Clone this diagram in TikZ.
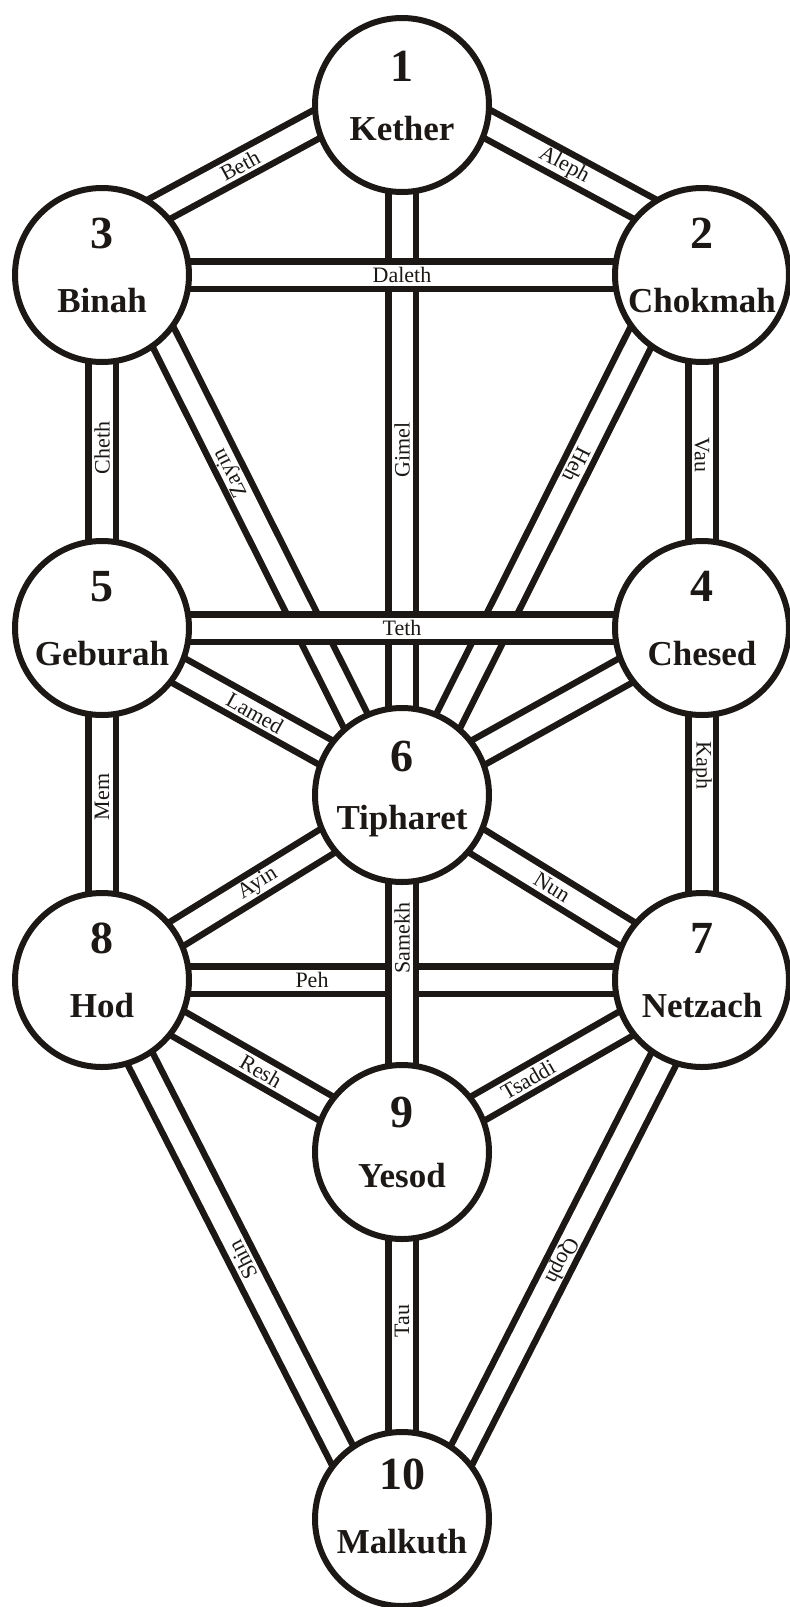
\documentclass[tikz,border=0pt]{standalone}
\usepackage{fontspec}
\setmainfont{Liberation Serif}
\usepackage{tikz}
\usetikzlibrary{backgrounds}
\definecolor{ink}{RGB}{28,24,22}

\begin{document}
\begin{tikzpicture}[x=1pt,y=-1pt,ink]
  \tikzstyle{sephira}=[circle,draw=ink,line width=6pt,fill=white,minimum size=174pt,inner sep=0pt]
  \tikzstyle{sephnum}=[font=\fontsize{46}{50}\selectfont\bfseries,text=ink,inner sep=0pt,anchor=base]
  \tikzstyle{sephname}=[font=\fontsize{35}{40}\selectfont\bfseries,text=ink,inner sep=0pt,anchor=base]
  \tikzstyle{band}=[draw=ink,line width=6.5pt,double=white,double distance=21pt]
  \tikzstyle{letter}=[font=\fontsize{22}{25}\selectfont,text=ink,inner sep=0pt]

  \useasboundingbox (0,0) rectangle (790,1607);

  \node[sephira] (kether)   at (402,105)  {};
  \node[sephira] (chokmah)  at (702,275)  {};
  \node[sephira] (binah)    at (102,275)  {};
  \node[sephira] (chesed)   at (702,628)  {};
  \node[sephira] (geburah)  at (102,628)  {};
  \node[sephira] (tipharet) at (402,795)  {};
  \node[sephira] (netzach)  at (702,980)  {};
  \node[sephira] (hod)      at (102,980)  {};
  \node[sephira] (yesod)    at (402,1152) {};
  \node[sephira] (malkuth)  at (402,1519) {};

  \node[sephnum]  (kether-num)    at ([yshift=24pt]kether.center)    {1};
  \node[sephname] (kether-name)   at ([yshift=-35pt]kether.center)   {Kether};
  \node[sephnum]  (chokmah-num)   at ([yshift=27pt]chokmah.center)   {2};
  \node[sephname] (chokmah-name)  at ([yshift=-37pt]chokmah.center)  {Chokmah};
  \node[sephnum]  (binah-num)     at ([yshift=27pt]binah.center)     {3};
  \node[sephname] (binah-name)    at ([yshift=-37pt]binah.center)    {Binah};
  \node[sephnum]  (chesed-num)    at ([yshift=27pt]chesed.center)    {4};
  \node[sephname] (chesed-name)   at ([yshift=-37pt]chesed.center)   {Chesed};
  \node[sephnum]  (geburah-num)   at ([yshift=27pt]geburah.center)   {5};
  \node[sephname] (geburah-name)  at ([yshift=-37pt]geburah.center)  {Geburah};
  \node[sephnum]  (tipharet-num)  at ([yshift=24pt]tipharet.center)  {6};
  \node[sephname] (tipharet-name) at ([yshift=-34pt]tipharet.center) {Tipharet};
  \node[sephnum]  (netzach-num)   at ([yshift=27pt]netzach.center)   {7};
  \node[sephname] (netzach-name)  at ([yshift=-37pt]netzach.center)  {Netzach};
  \node[sephnum]  (hod-num)       at ([yshift=27pt]hod.center)       {8};
  \node[sephname] (hod-name)      at ([yshift=-37pt]hod.center)      {Hod};
  \node[sephnum]  (yesod-num)     at ([yshift=25pt]yesod.center)     {9};
  \node[sephname] (yesod-name)    at ([yshift=-35pt]yesod.center)    {Yesod};
  \node[sephnum]  (malkuth-num)   at ([yshift=30pt]malkuth.center)   {10};
  \node[sephname] (malkuth-name)  at ([yshift=-34pt]malkuth.center)  {Malkuth};

  % the paths, under the circles
  \begin{pgfonlayer}{background}
  \path[band] ([yshift=35pt]binah.center) -- node[letter,pos=0.46,rotate=28.4] {Beth} ([yshift=27pt]kether.center);
  \path[band] ([yshift=27pt]kether.center) -- node[letter,pos=0.54,rotate=-28.4] {Aleph} ([yshift=35pt]chokmah.center);
  \path[band] (kether.center) -- node[letter,pos=0.5,rotate=90] {Gimel} (tipharet.center);
  \path[band] ([xshift=30pt]binah.center) -- node[letter,pos=0.38,rotate=116.7] {Zayin} ([xshift=-9pt]tipharet.center);
  \path[band] ([xshift=-30pt]chokmah.center) -- node[letter,pos=0.365,rotate=-116.7] {Heh} ([xshift=9pt]tipharet.center);
  \path[band] (binah.center) -- node[letter,pos=0.49,rotate=90] {Cheth} (geburah.center);
  \path[band] (chokmah.center) -- node[letter,pos=0.51,rotate=-90] {Vau} (chesed.center);
  \path[band] (geburah.center) -- node[letter,pos=0.51,rotate=-29.1] {Lamed} (tipharet.center);
  \path[band] (chesed.center) -- (tipharet.center);
  \path[band] (geburah.center) -- node[letter,pos=0.48,rotate=90] {Mem} (hod.center);
  \path[band] (chesed.center) -- node[letter,pos=0.39,rotate=-90] {Kaph} (netzach.center);
  \path[band] (hod.center) -- node[letter,pos=0.52,rotate=31.7] {Ayin} (tipharet.center);
  \path[band] (tipharet.center) -- node[letter,pos=0.5,rotate=-31.7] {Nun} (netzach.center);
  \path[band] (hod.center) -- node[letter,pos=0.53,rotate=-29.8] {Resh} (yesod.center);
  \path[band] (yesod.center) -- node[letter,pos=0.42,rotate=29.8] {Tsaddi} (netzach.center);
  \path[band] ([xshift=-2pt]hod.center) -- node[letter,pos=0.52,rotate=117] {Shin} ([xshift=-27pt]malkuth.center);
  \path[band] ([xshift=2pt]netzach.center) -- node[letter,pos=0.52,rotate=-117] {Qoph} ([xshift=27pt]malkuth.center);
  \path[band] (yesod.center) -- node[letter,pos=0.46,rotate=90] {Tau} (malkuth.center);
  \path[band] (binah.center) -- node[letter] {Daleth} (chokmah.center);
  \path[band] (geburah.center) -- node[letter] {Teth} (chesed.center);
  \path[band] (hod.center) -- node[letter,pos=0.35] {Peh} (netzach.center);
  \path[band] (tipharet.center) -- node[letter,pos=0.4,rotate=90] {Samekh} (yesod.center);
  \end{pgfonlayer}
\end{tikzpicture}
\end{document}
